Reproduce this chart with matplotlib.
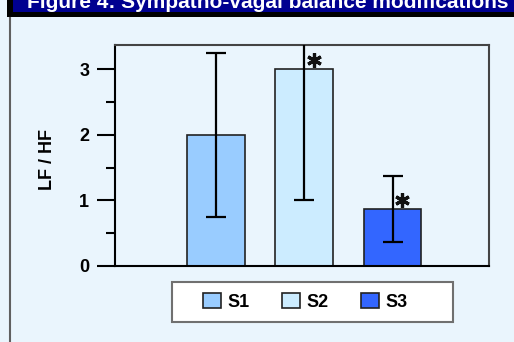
import numpy as np
import matplotlib
matplotlib.use('Agg')
import matplotlib.pyplot as plt
from matplotlib.patches import Rectangle, Patch
from matplotlib.transforms import Bbox, TransformedBbox

# chart data
groups = ['S1', 'S2', 'S3']
lf_hf = [2.0, 3.0, 0.87]
lf_hf_err = [1.25, 2.0, 0.5]
bar_colors = ['#99CCFF', '#CCECFF', '#3366FF']
signif = [False, True, True]   # asterisk over the bar
title = 'Figure 4: Sympatho-vagal balance modifications'

W, H = 514, 342
BG = '#EAF5FD'


def fx(px):
    return px / W


def fy(py):
    return 1 - py / H


plt.rcParams['font.family'] = ['Liberation Sans', 'DejaVu Sans']
plt.rcParams['font.weight'] = 'bold'

fig = plt.figure(figsize=(W / 100, H / 100), dpi=100, facecolor=BG)

# title banner (top part cut off like the original)
fig.patches.append(Rectangle((fx(7), fy(17)), fx(W - 7), 17 / H, transform=fig.transFigure,
                             facecolor='black', edgecolor='none'))
banner = Rectangle((fx(13), fy(12)), fx(W - 13), 12 / H, transform=fig.transFigure,
                   facecolor='#000090', edgecolor='none')
fig.patches.append(banner)
t = fig.text(fx(27), fy(8), title, color='white', fontsize=15, fontweight='bold',
             va='baseline', ha='left')
t.set_clip_box(TransformedBbox(Bbox([[fx(13), fy(12)], [1, 1]]), fig.transFigure))
t.set_clip_on(True)

# panel left edge
fig.add_artist(plt.Line2D([fx(10), fx(10)], [fy(18), 0], transform=fig.transFigure,
                          color='#606060', lw=1.5))

ax = fig.add_axes([fx(115), fy(266), fx(374), 221 / H])
ax.set_facecolor(BG)
x = np.arange(len(groups))
ax.bar(x, lf_hf, width=0.65, color=bar_colors, edgecolor='#222222', linewidth=1.2, zorder=2)
ax.errorbar(x, lf_hf, yerr=lf_hf_err, fmt='none', ecolor='black', elinewidth=1.6,
            capsize=7, capthick=1.6, zorder=3)

sx = [x[i] + 0.11 for i in range(len(groups)) if signif[i]]
sy = [lf_hf[i] + 0.14 for i in range(len(groups)) if signif[i]]
ax.plot(sx, sy, ls='none', marker=(6, 2, 0), ms=10.5, mew=2.3, color='#111111', zorder=4)

ax.set_xlim(-1.14, 3.09)
ax.set_ylim(0, 3.37)
ax.set_xticks([])
ax.set_yticks([0, 1, 2, 3])
ax.set_yticks([0.5, 1.5, 2.5], minor=True)
ax.tick_params(axis='y', which='major', length=13, width=1.5, pad=5.5, labelsize=13)
ax.tick_params(axis='y', which='minor', length=6.5, width=1.5)
for lab in ax.get_yticklabels():
    lab.set_fontweight('bold')
for side in ['left', 'bottom']:
    ax.spines[side].set_color('black')
    ax.spines[side].set_linewidth(1.5)
for side in ['top', 'right']:
    ax.spines[side].set_color('#444444')
    ax.spines[side].set_linewidth(1.5)

fig.text(fx(47), fy(160), 'LF / HF', rotation=90, fontsize=13, fontweight='bold',
         ha='center', va='center')

# legend box
fig.patches.append(Rectangle((fx(172), fy(322)), fx(281), 40 / H, transform=fig.transFigure,
                             facecolor='white', edgecolor='#707070', linewidth=1.5))
handles = [Patch(facecolor=c, edgecolor='#222222', linewidth=1.2) for c in bar_colors]
leg = fig.legend(handles, groups, loc='center', bbox_to_anchor=(fx(305), fy(302)), ncol=3,
                 frameon=False, prop={'weight': 'bold', 'size': 13}, handlelength=1.0,
                 handleheight=0.9, handletextpad=0.35, columnspacing=1.8)

fig.savefig('out.png', dpi=100, facecolor=BG)
